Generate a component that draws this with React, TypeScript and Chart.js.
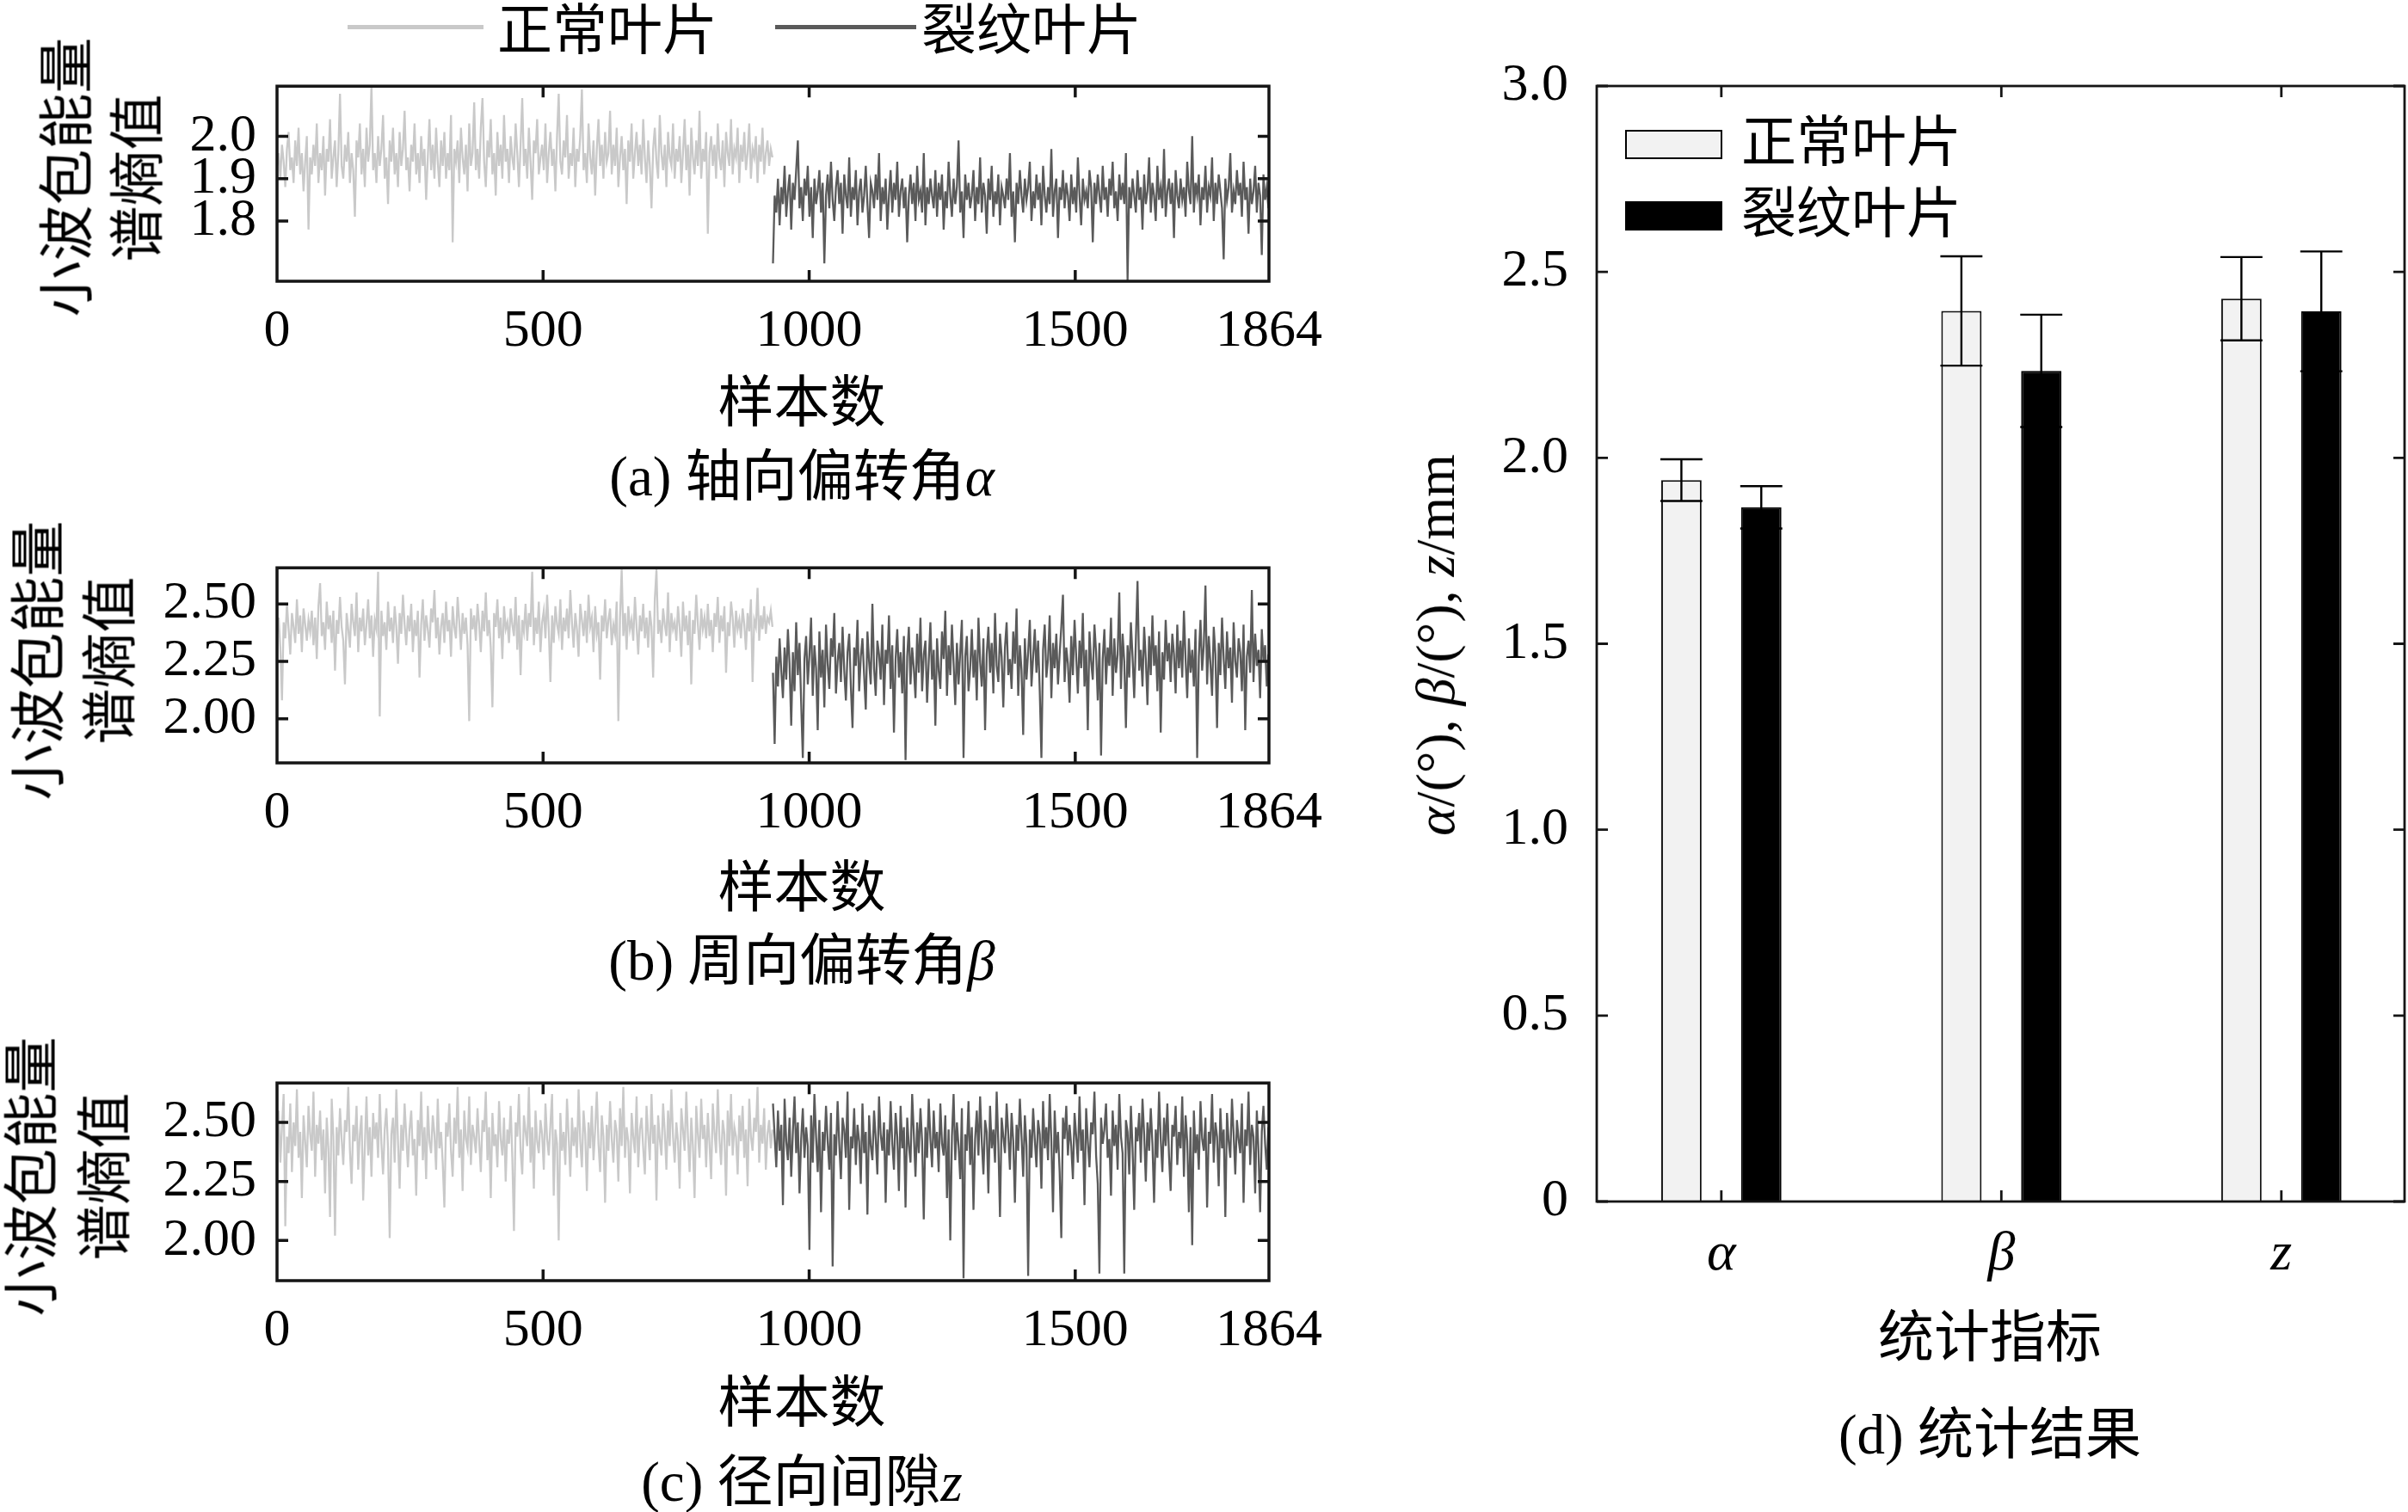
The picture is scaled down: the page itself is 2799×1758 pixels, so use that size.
import React, { useEffect, useRef } from 'react';
import { Chart, registerables } from 'chart.js';

Chart.register(...registerables);

const NUM_FONT = '"Liberation Serif", "Times New Roman", serif';
const TEXT_FONT = '"Liberation Serif", "Noto Sans CJK SC", serif';

const SAMPLE_TOTAL = 1864;
const SPLIT_AT = 932;
const SAMPLE_TICKS = [0, 500, 1000, 1500, 1864];
const SAMPLE_MARKS = [500, 1000, 1500];

const NORMAL_COLOR = '#c9c9c9';
const CRACK_COLOR = '#5a5a5a';

// (a) axial deflection angle alpha
const ALPHA_NORMAL = [
  1.93, 1.96, 1.90, 1.98, 1.94, 1.88, 1.97, 2.01, 1.92, 1.95, 1.89, 1.99, 1.93, 2.02, 1.91, 1.96, 1.87, 1.94, 2.00, 1.78,
  1.95, 1.91, 1.98, 1.93, 2.03, 1.89, 1.96, 1.92, 2.00, 1.86, 1.97, 1.94, 2.04, 1.90, 1.95, 1.99, 1.88, 1.96, 2.10, 1.93,
  1.90, 1.98, 1.94, 2.01, 1.89, 1.96, 1.92, 1.81, 1.99, 1.95, 2.03, 1.91, 1.97, 1.88, 2.02, 1.94, 1.98, 2.12, 1.92, 1.96,
  1.89, 2.00, 1.93, 1.97, 2.05, 1.90, 1.95, 1.84, 1.99, 1.94, 2.02, 1.91, 1.96, 1.88, 2.01, 1.93, 1.97, 2.06, 1.92, 1.95,
  1.87, 1.98, 1.94, 2.03, 1.91, 1.96, 1.89, 2.00, 1.93, 1.97, 1.85, 1.95, 2.04, 1.92, 1.98, 1.90, 2.02, 1.94, 1.88, 1.99,
  1.93, 2.01, 1.90, 1.96, 1.92, 2.05, 1.75, 1.97, 1.94, 1.99, 1.89, 2.02, 1.95, 1.91, 1.98, 1.87, 2.03, 1.93, 1.96, 2.08,
  1.92, 1.97, 1.90, 2.02, 2.09, 1.94, 1.88, 1.99, 1.95, 2.04, 1.91, 1.96, 1.86, 2.01, 1.93, 1.98, 1.90, 2.05, 1.94, 1.97,
  1.89, 2.00, 1.95, 1.92, 2.03, 1.96, 1.88, 1.98, 2.09, 1.93, 1.97, 1.90, 2.02, 1.94, 1.85, 1.99, 1.96, 2.04, 1.91, 1.95,
  1.98, 1.92, 2.03, 1.89, 1.96, 2.01, 1.93, 1.97, 1.87, 2.00, 2.10, 1.94, 1.91, 1.99, 1.95, 2.05, 1.90, 1.96, 1.93, 2.02,
  1.88, 1.97, 1.94, 2.00, 2.11, 1.92, 1.96, 1.89, 2.03, 1.95, 1.91, 1.99, 1.86, 1.97, 2.04, 1.93, 1.98, 1.90, 2.01, 1.94,
  1.96, 2.06, 1.91, 1.98, 1.93, 2.02, 1.88, 1.95, 2.00, 1.92, 1.97, 1.84, 1.99, 1.94, 2.03, 1.90, 1.96, 2.01, 1.93, 1.98,
  1.91, 2.04, 1.95, 1.89, 1.99, 1.93, 1.83, 1.97, 2.02, 1.94, 1.90, 2.05, 1.96, 1.92, 1.98, 1.88, 2.01, 1.95, 1.93, 2.03,
  1.90, 1.97, 1.94, 2.00, 1.89, 1.96, 2.04, 1.92, 1.98, 1.86, 2.02, 1.95, 1.91, 1.99, 1.93, 2.06, 1.90, 1.97, 1.94, 2.01,
  1.77, 1.96, 2.00, 1.93, 1.98, 1.90, 2.03, 1.95, 1.92, 1.99, 1.88, 2.01, 1.96, 1.93, 2.04, 1.91, 1.97, 1.95, 2.02, 1.89,
  1.98, 1.94, 2.01, 1.92, 1.96, 2.03, 1.90, 1.97, 1.95, 2.00, 1.89, 1.98, 1.94, 2.02, 1.91, 1.96, 1.99, 1.93, 1.97, 1.95,
];
const ALPHA_CRACK = [
  1.70, 1.86, 1.82, 1.90, 1.79, 1.88, 1.84, 1.93, 1.81, 1.87, 1.91, 1.78, 1.89, 1.85, 1.92, 1.99, 1.83, 1.88, 1.80, 1.90,
  1.86, 1.93, 1.81, 1.88, 1.76, 1.90, 1.84, 1.87, 1.92, 1.82, 1.89, 1.70, 1.86, 1.91, 1.83, 1.94, 1.85, 1.80, 1.88, 1.92,
  1.84, 1.89, 1.77, 1.91, 1.86, 1.83, 1.95, 1.81, 1.88, 1.85, 1.92, 1.79, 1.87, 1.90, 1.82, 1.86, 1.93, 1.84, 1.76, 1.89,
  1.87, 1.83, 1.91, 1.85, 1.96, 1.80, 1.88, 1.84, 1.90, 1.78, 1.86, 1.92, 1.82, 1.89, 1.85, 1.94, 1.81, 1.87, 1.90, 1.83,
  1.88, 1.75, 1.86, 1.91, 1.84, 1.89, 1.80, 1.93, 1.85, 1.87, 1.82, 1.96, 1.79, 1.88, 1.84, 1.90, 1.86, 1.83, 1.92, 1.81,
  1.89, 1.85, 1.91, 1.78, 1.87, 1.83, 1.94, 1.86, 1.81, 1.90, 1.84, 1.88, 1.99, 1.82, 1.87, 1.76, 1.91, 1.85, 1.89, 1.83,
  1.86, 1.92, 1.80, 1.88, 1.84, 1.95, 1.82, 1.89, 1.86, 1.77, 1.90, 1.85, 1.93, 1.81, 1.87, 1.84, 1.91, 1.79, 1.88, 1.86,
  1.83, 1.90, 1.85, 1.96, 1.81, 1.87, 1.75, 1.89, 1.84, 1.92, 1.86, 1.82, 1.90, 1.85, 1.88, 1.94, 1.80, 1.87, 1.83, 1.91,
  1.85, 1.89, 1.79, 1.93, 1.86, 1.82, 1.88, 1.84, 1.97, 1.81, 1.87, 1.90, 1.76, 1.88, 1.85, 1.92, 1.83, 1.89, 1.86, 1.80,
  1.91, 1.84, 1.88, 1.82, 1.95, 1.86, 1.79, 1.90, 1.85, 1.87, 1.83, 1.92, 1.88, 1.75, 1.89, 1.84, 1.91, 1.86, 1.82, 1.93,
  1.85, 1.88, 1.81, 1.90, 1.86, 1.94, 1.83, 1.87, 1.80, 1.91, 1.85, 1.89, 1.84, 1.96, 1.66, 1.88, 1.83, 1.90, 1.86, 1.82,
  1.92, 1.85, 1.88, 1.78, 1.91, 1.84, 1.87, 1.95, 1.82, 1.89, 1.86, 1.80, 1.93, 1.85, 1.88, 1.83, 1.97, 1.81, 1.87, 1.90,
  1.84, 1.89, 1.76, 1.92, 1.86, 1.83, 1.90, 1.85, 1.88, 1.81, 1.94, 1.87, 1.84, 2.00, 1.82, 1.89, 1.86, 1.91, 1.79, 1.88,
  1.85, 1.93, 1.82, 1.88, 1.86, 1.95, 1.80, 1.89, 1.84, 1.91, 1.87, 1.83, 1.71, 1.90, 1.85, 1.88, 1.96, 1.82, 1.87, 1.84,
  1.92, 1.86, 1.89, 1.81, 1.94, 1.85, 1.88, 1.77, 1.90, 1.84, 1.87, 1.93, 1.82, 1.89, 1.86, 1.72, 1.91, 1.85, 1.88, 1.83,
];
const ALPHA_Y_TICKS = [1.8, 1.9, 2.0];
const ALPHA_Y_MIN = 1.658;
const ALPHA_Y_MAX = 2.118;

// (b) circumferential deflection angle beta
const BETA_NORMAL = [
  2.37, 2.44, 2.31, 2.08, 2.42, 2.35, 2.50, 2.39, 2.28, 2.46, 2.40, 2.33, 2.52, 2.37, 2.45, 2.29, 2.48, 2.41, 2.34, 2.43,
  2.38, 2.47, 2.32, 2.44, 2.26, 2.49, 2.59, 2.36, 2.42, 2.30, 2.51, 2.39, 2.45, 2.33, 2.47, 2.21, 2.43, 2.37, 2.53, 2.40,
  2.34, 2.15, 2.46, 2.39, 2.31, 2.50, 2.42, 2.36, 2.55, 2.29, 2.44, 2.38, 2.48, 2.32, 2.41, 2.52, 2.35, 2.45, 2.27, 2.43,
  2.39, 2.64, 2.01, 2.47, 2.36, 2.42, 2.30, 2.51, 2.38, 2.44, 2.33, 2.49, 2.40, 2.24, 2.46, 2.37, 2.54, 2.41, 2.32, 2.45,
  2.38, 2.50, 2.29, 2.43, 2.36, 2.47, 2.18, 2.41, 2.52, 2.34, 2.45, 2.39, 2.31, 2.48, 2.42, 2.56, 2.35, 2.44, 2.28, 2.40,
  2.46, 2.33, 2.51, 2.38, 2.43, 2.27, 2.49, 2.40, 2.35, 2.53, 2.42, 2.30, 2.46, 2.37, 2.44, 2.32, 1.99, 2.48, 2.39, 2.45,
  2.34, 2.50, 2.41, 2.29, 2.47, 2.38, 2.55, 2.36, 2.43, 2.31, 2.05, 2.46, 2.40, 2.52, 2.35, 2.44, 2.26, 2.49, 2.39, 2.42,
  2.33, 2.48, 2.41, 2.36, 2.53, 2.30, 2.45, 2.19, 2.43, 2.38, 2.50, 2.34, 2.46, 2.40, 2.64, 2.32, 2.44, 2.37, 2.51, 2.29,
  2.42, 2.47, 2.35, 2.54, 2.39, 2.16, 2.45, 2.33, 2.49, 2.41, 2.37, 2.52, 2.30, 2.44, 2.38, 2.48, 2.35, 2.56, 2.42, 2.31,
  2.46, 2.39, 2.27, 2.50, 2.43, 2.36, 2.47, 2.33, 2.54, 2.40, 2.44, 2.29, 2.49, 2.37, 2.42, 2.17, 2.45, 2.38, 2.52, 2.35,
  2.43, 2.48, 2.32, 2.41, 2.37, 2.51, 1.99, 2.44, 2.65, 2.36, 2.46, 2.30, 2.49, 2.39, 2.43, 2.34, 2.53, 2.40, 2.28, 2.45,
  2.38, 2.50, 2.35, 2.44, 2.31, 2.47, 2.40, 2.18, 2.52, 2.65, 2.37, 2.43, 2.33, 2.48, 2.41, 2.36, 2.55, 2.29, 2.46, 2.39,
  2.42, 2.34, 2.49, 2.40, 2.27, 2.51, 2.38, 2.45, 2.32, 2.47, 2.15, 2.43, 2.37, 2.54, 2.41, 2.30, 2.48, 2.39, 2.44, 2.35,
  2.50, 2.36, 2.43, 2.29, 2.46, 2.40, 2.53, 2.33, 2.45, 2.38, 2.49, 2.20, 2.42, 2.36, 2.51, 2.44, 2.31, 2.47, 2.39, 2.43,
  2.35, 2.48, 2.41, 2.30, 2.46, 2.38, 2.52, 2.16, 2.43, 2.40, 2.57, 2.34, 2.45, 2.39, 2.49, 2.37, 2.44, 2.42, 2.47, 2.40,
];
const BETA_CRACK = [
  2.20, 1.89, 2.27, 2.14, 2.35, 2.21, 2.09, 2.31, 2.17, 2.39, 2.24, 1.97, 2.29, 2.12, 2.42, 2.19, 2.33, 2.07, 1.83, 2.26,
  2.36, 2.15, 2.28, 2.44, 2.10, 2.32, 2.22, 1.95, 2.38, 2.18, 2.30, 2.05, 2.41, 2.24, 2.13, 2.35, 2.27, 2.46, 2.11, 2.25,
  2.33, 2.16, 2.40, 2.21, 2.08, 2.29, 2.37, 2.14, 1.96, 2.31, 2.23, 2.43, 2.12, 2.27, 2.35, 2.19, 2.04, 2.38, 2.25, 2.15,
  2.50, 2.22, 2.10, 2.34, 2.28, 2.17, 2.41, 2.06, 2.30, 2.24, 2.45, 2.13, 2.32, 1.94, 2.26, 2.39, 2.18, 2.29, 2.11, 2.36,
  1.82, 2.27, 2.40, 2.15, 2.31, 2.22, 2.09, 2.37, 2.20, 2.44, 2.12, 2.28, 2.34, 2.07, 2.25, 2.42, 2.17, 2.30, 1.97, 2.35,
  2.21, 2.13, 2.38, 2.26, 2.47, 2.10, 2.32, 2.19, 2.41, 2.24, 2.06, 2.33, 2.15, 2.29, 2.43, 1.83, 2.27, 2.36, 2.12, 2.22,
  2.39, 2.18, 2.30, 2.08, 2.44, 2.25, 2.14, 2.35, 1.95, 2.28, 2.40, 2.20, 2.33, 2.11, 2.46, 2.23, 2.16, 2.37, 2.27, 2.05,
  2.31, 2.42, 2.19, 2.26, 2.13, 2.38, 2.24, 2.48, 2.10, 2.32, 2.21, 1.93, 2.35, 2.17, 2.29, 2.43, 2.14, 2.27, 2.39, 2.20,
  2.34, 2.12, 1.83, 2.30, 2.41, 2.18, 2.26, 2.45, 2.09, 2.33, 2.22, 2.37, 2.15, 2.28, 2.40, 2.54, 2.16, 2.31, 2.24, 2.07,
  2.36, 2.19, 2.43, 2.27, 2.11, 2.34, 2.22, 2.46, 2.14, 2.30, 1.95, 2.38, 2.25, 2.17, 2.41, 2.29, 2.08, 2.33, 1.84, 2.26,
  2.39, 2.15, 2.31, 2.23, 2.44, 2.10, 2.35, 2.20, 2.28, 2.55, 2.13, 2.37, 2.25, 1.96, 2.32, 2.18, 2.42, 2.27, 2.09, 2.34,
  2.60, 2.21, 2.30, 2.14, 2.40, 2.26, 2.06, 2.36, 2.19, 2.45, 2.23, 2.32, 2.12, 2.38, 1.94, 2.29, 2.17, 2.43, 2.25, 2.33,
  2.16, 2.37, 2.28, 2.11, 2.41, 2.22, 2.34, 2.18, 2.47, 2.26, 2.09, 2.35, 2.20, 2.30, 2.14, 2.39, 1.83, 2.27, 2.43, 2.21,
  2.32, 2.58, 2.15, 2.36, 2.24, 2.10, 2.40, 2.28, 1.96, 2.33, 2.19, 2.44, 2.26, 2.13, 2.38, 2.22, 2.31, 2.07, 2.42, 2.25,
  2.18, 2.35, 2.29, 2.12, 2.41, 1.95, 2.27, 2.34, 2.20, 2.56, 2.16, 2.37, 2.23, 2.30, 2.09, 2.39, 2.25, 2.32, 2.14, 2.28,
];
const BETA_Y_TICKS = [2.0, 2.25, 2.5];
const BETA_Y_MIN = 1.808;
const BETA_Y_MAX = 2.657;

// (c) radial clearance z
const Z_NORMAL = [
  2.41, 2.55, 2.33, 2.48, 2.62, 2.06, 2.44, 2.37, 2.58, 2.29, 2.50, 2.40, 2.64, 2.35, 2.46, 2.18, 2.53, 2.42, 2.31, 2.57,
  2.45, 2.38, 2.63, 2.27, 2.49, 2.41, 2.55, 2.34, 2.47, 2.20, 2.52, 2.39, 2.10, 2.60, 2.44, 2.02, 2.48, 2.36, 2.56, 2.43,
  2.32, 2.51, 2.46, 2.65, 2.38, 2.24, 2.49, 2.42, 2.57, 2.30, 2.45, 2.53, 2.17, 2.40, 2.61, 2.36, 2.48, 2.27, 2.54, 2.43,
  2.50, 2.35, 2.62, 2.41, 2.28, 2.47, 2.56, 2.39, 2.01, 2.45, 2.52, 2.33, 2.64, 2.42, 2.22, 2.49, 2.38, 2.58, 2.44, 2.31,
  2.47, 2.55, 2.36, 2.43, 2.19, 2.51, 2.40, 2.63, 2.34, 2.48, 2.26, 2.57, 2.42, 2.37, 2.53, 2.45, 2.30, 2.60, 2.39, 2.46,
  2.33, 2.14, 2.50, 2.44, 2.58, 2.38, 2.27, 2.52, 2.41, 2.65, 2.35, 2.47, 2.21, 2.55, 2.43, 2.39, 2.61, 2.32, 2.49, 2.44,
  2.37, 2.56, 2.42, 2.29, 2.51, 2.46, 2.63, 2.34, 2.48, 2.18, 2.54, 2.40, 2.45, 2.31, 2.59, 2.43, 2.36, 2.52, 2.25, 2.47,
  2.41, 2.57, 2.35, 2.04, 2.50, 2.44, 2.62, 2.38, 2.28, 2.53, 2.46, 2.40, 2.65, 2.33, 2.48, 2.22, 2.55, 2.42, 2.37, 2.51,
  2.45, 2.30, 2.58, 2.43, 2.36, 2.49, 2.62, 2.19, 2.47, 2.41, 2.00, 2.54, 2.38, 2.46, 2.32, 2.60, 2.44, 2.27, 2.52, 2.40,
  2.48, 2.35, 2.64, 2.42, 2.31, 2.55, 2.45, 2.21, 2.50, 2.39, 2.57, 2.34, 2.47, 2.63, 2.41, 2.29, 2.53, 2.44, 2.16, 2.49,
  2.38, 2.59, 2.43, 2.33, 2.51, 2.46, 2.25, 2.56, 2.40, 2.65, 2.35, 2.48, 2.42, 2.20, 2.54, 2.44, 2.37, 2.61, 2.31, 2.47,
  2.52, 2.39, 2.28, 2.57, 2.45, 2.34, 2.62, 2.41, 2.49, 2.17, 2.53, 2.43, 2.36, 2.58, 2.46, 2.30, 2.55, 2.40, 2.64, 2.44,
  2.33, 2.50, 2.42, 2.22, 2.56, 2.47, 2.38, 2.63, 2.44, 2.29, 2.52, 2.40, 2.18, 2.57, 2.45, 2.35, 2.60, 2.43, 2.49, 2.31,
  2.54, 2.41, 2.26, 2.58, 2.46, 2.37, 2.64, 2.43, 2.32, 2.51, 2.45, 2.19, 2.55, 2.40, 2.62, 2.36, 2.48, 2.44, 2.28, 2.53,
  2.42, 2.57, 2.35, 2.47, 2.23, 2.60, 2.44, 2.38, 2.52, 2.46, 2.65, 2.33, 2.49, 2.41, 2.56, 2.30, 2.45, 2.51, 2.39, 2.47,
];
const Z_CRACK = [
  2.58, 2.44, 2.31, 2.55, 2.38, 2.49, 2.15, 2.60, 2.42, 2.34, 2.52, 2.27, 2.46, 2.61, 2.37, 2.50, 2.20, 2.43, 2.56, 2.35,
  2.48, 2.40, 1.96, 2.53, 2.33, 2.62, 2.44, 2.29, 2.51, 2.12, 2.46, 2.38, 2.57, 2.42, 2.30, 2.54, 1.89, 2.45, 2.36, 2.59,
  2.41, 2.26, 2.52, 2.47, 2.35, 2.63, 2.13, 2.44, 2.39, 2.56, 2.32, 2.49, 2.42, 2.24, 2.58, 2.37, 2.46, 2.11, 2.53, 2.40,
  2.34, 2.55, 2.43, 2.28, 2.61, 2.45, 2.38, 2.50, 2.16, 2.47, 2.36, 2.59, 2.41, 2.30, 2.54, 2.44, 2.21, 2.57, 2.39, 2.48,
  2.14, 2.52, 2.40, 2.33, 2.62, 2.45, 2.27, 2.50, 2.37, 2.56, 2.42, 2.09, 2.48, 2.35, 2.60, 2.43, 2.31, 2.55, 2.39, 2.46,
  2.29, 2.58, 2.41, 2.36, 2.53, 2.18, 2.47, 2.00, 2.44, 2.62, 2.34, 2.50, 2.40, 2.26, 2.56, 1.84, 2.45, 2.38, 2.59, 2.32,
  2.48, 2.13, 2.43, 2.55, 2.36, 2.61, 2.42, 2.28, 2.51, 2.46, 2.20, 2.57, 2.39, 2.47, 2.33, 2.63, 2.41, 2.10, 2.52, 2.44,
  2.37, 2.58, 2.45, 2.30, 2.54, 2.42, 2.16, 2.49, 2.38, 2.60, 2.44, 2.27, 2.53, 2.40, 1.85, 2.47, 2.35, 2.56, 2.43, 2.31,
  2.51, 2.45, 2.22, 2.59, 2.39, 2.48, 2.34, 2.62, 2.42, 2.12, 2.55, 2.37, 2.46, 2.29, 2.01, 2.52, 2.43, 2.57, 2.36, 2.49,
  2.40, 2.26, 2.54, 2.44, 2.33, 2.61, 2.38, 2.47, 2.15, 2.56, 2.42, 2.31, 2.50, 2.45, 2.63, 2.36, 2.24, 1.86, 2.52, 2.41,
  2.47, 2.58, 2.35, 2.43, 2.19, 2.55, 2.40, 2.49, 2.30, 2.62, 2.44, 2.37, 1.86, 2.51, 2.46, 2.28, 2.57, 2.39, 2.13, 2.48,
  2.42, 2.54, 2.33, 2.60, 2.45, 2.25, 2.50, 2.38, 2.56, 2.41, 2.16, 2.47, 2.35, 2.63, 2.43, 2.29, 2.52, 2.40, 2.58, 2.36,
  2.21, 2.49, 2.44, 2.57, 2.32, 2.46, 2.39, 2.61, 2.27, 2.53, 2.42, 2.12, 2.48, 1.98, 2.55, 2.37, 2.45, 2.30, 2.59, 2.43,
  2.38, 2.52, 2.14, 2.46, 2.41, 2.62, 2.33, 2.50, 2.44, 2.23, 2.56, 2.39, 2.47, 2.10, 2.54, 2.42, 2.35, 2.60, 2.45, 2.28,
  2.51, 2.43, 2.37, 2.58, 2.16, 2.47, 2.40, 2.63, 2.32, 2.49, 2.44, 2.20, 2.55, 2.38, 2.12, 2.46, 2.57, 2.41, 2.30, 2.48,
];
const Z_Y_TICKS = [2.0, 2.25, 2.5];
const Z_Y_MIN = 1.83;
const Z_Y_MAX = 2.667;

// (d) statistics
const BAR_CATEGORIES = ['α', 'β', 'z'];
const NORMAL_MEAN = [1.94, 2.395, 2.428];
const NORMAL_SD = [0.056, 0.147, 0.112];
const CRACK_MEAN = [1.867, 2.234, 2.394];
const CRACK_SD = [0.057, 0.151, 0.161];
const BAR_Y_TICKS = [0, 0.5, 1.0, 1.5, 2.0, 2.5, 3.0];
const LEGEND_NORMAL = '正常叶片';
const LEGEND_CRACK = '裂纹叶片';

function framePlugin(lineWidth: number, tickLen: number, xMarks: number[], yMarks: number[]) {
  return {
    id: 'frame',
    afterDraw(chart: any) {
      const { ctx, chartArea: a } = chart;
      const xs = chart.scales.x;
      const ys = chart.scales.y;
      ctx.save();
      ctx.strokeStyle = '#151515';
      ctx.lineWidth = lineWidth;
      ctx.beginPath();
      xMarks.forEach((v) => {
        const p = xs.getPixelForValue(v);
        ctx.moveTo(p, a.bottom);
        ctx.lineTo(p, a.bottom - tickLen);
        ctx.moveTo(p, a.top);
        ctx.lineTo(p, a.top + tickLen);
      });
      yMarks.forEach((v) => {
        const p = ys.getPixelForValue(v);
        ctx.moveTo(a.left, p);
        ctx.lineTo(a.left + tickLen, p);
        ctx.moveTo(a.right, p);
        ctx.lineTo(a.right - tickLen, p);
      });
      ctx.stroke();
      ctx.strokeRect(a.left, a.top, a.right - a.left, a.bottom - a.top);
      ctx.restore();
    },
  };
}

type PanelProps = {
  areaTop: number;
  areaHeight: number;
  normal: number[];
  crack: number[];
  yMin: number;
  yMax: number;
  yTicks: number[];
  decimals: number;
};

function SignalPanel({ areaTop, areaHeight, normal, crack, yMin, yMax, yTicks, decimals }: PanelProps) {
  const ref = useRef<HTMLCanvasElement>(null);
  const PAD_TOP = 50;
  const AXIS_H = 100;
  const WIDTH = 1560;
  const PAD_RIGHT = 85;
  const Y_AXIS_W = 322;
  const height = PAD_TOP + areaHeight + AXIS_H;

  useEffect(() => {
    const normalPts = normal.map((v, i) => ({ x: (i * (SPLIT_AT - 1)) / (normal.length - 1), y: v }));
    const crackPts = crack.map((v, i) => ({
      x: SPLIT_AT + (i * (SAMPLE_TOTAL - 1 - SPLIT_AT)) / (crack.length - 1),
      y: v,
    }));
    const chart = new Chart(ref.current as HTMLCanvasElement, {
      type: 'line',
      data: {
        datasets: [
          { data: normalPts, borderColor: NORMAL_COLOR, borderWidth: 2.3, pointRadius: 0, tension: 0, fill: false },
          { data: crackPts, borderColor: CRACK_COLOR, borderWidth: 2.3, pointRadius: 0, tension: 0, fill: false },
        ],
      },
      options: {
        animation: false,
        responsive: false,
        devicePixelRatio: 1,
        layout: { padding: { top: PAD_TOP, right: PAD_RIGHT, left: 0, bottom: 0 } },
        plugins: { legend: { display: false }, tooltip: { enabled: false } },
        scales: {
          x: {
            type: 'linear',
            min: 0,
            max: SAMPLE_TOTAL,
            grid: { display: false, drawTicks: false },
            border: { display: false },
            afterBuildTicks: (s: any) => {
              s.ticks = SAMPLE_TICKS.map((v) => ({ value: v }));
            },
            afterFit: (s: any) => {
              s.height = AXIS_H;
            },
            ticks: {
              autoSkip: false,
              maxRotation: 0,
              padding: 22,
              color: '#000',
              font: { family: NUM_FONT, size: 62 },
              callback: (v: any) => String(v),
            },
          },
          y: {
            type: 'linear',
            min: yMin,
            max: yMax,
            grid: { display: false, drawTicks: false },
            border: { display: false },
            afterBuildTicks: (s: any) => {
              s.ticks = yTicks.map((v) => ({ value: v }));
            },
            afterFit: (s: any) => {
              s.width = Y_AXIS_W;
            },
            ticks: {
              autoSkip: false,
              padding: 24,
              color: '#000',
              font: { family: NUM_FONT, size: 62 },
              callback: (v: any) => Number(v).toFixed(decimals),
            },
          },
        },
      } as any,
      plugins: [framePlugin(3.5, 13, SAMPLE_MARKS, yTicks)],
    });
    return () => chart.destroy();
  }, []);

  return (
    <canvas
      ref={ref}
      width={WIDTH}
      height={height}
      style={{ position: 'absolute', left: 0, top: areaTop - PAD_TOP, width: WIDTH, height }}
    />
  );
}

function BarPanel() {
  const ref = useRef<HTMLCanvasElement>(null);
  const LEFT = 1600;
  const WIDTH = 1199;
  const HEIGHT = 1500;
  const PAD_TOP = 100;
  const AREA_BOTTOM = 1397;

  useEffect(() => {
    const errorBars = {
      id: 'errorBars',
      afterDatasetsDraw(chart: any) {
        const { ctx } = chart;
        const ys = chart.scales.y;
        const sets = [
          { mean: NORMAL_MEAN, sd: NORMAL_SD },
          { mean: CRACK_MEAN, sd: CRACK_SD },
        ];
        ctx.save();
        ctx.strokeStyle = '#000';
        ctx.lineWidth = 2.4;
        sets.forEach((s, di) => {
          const meta = chart.getDatasetMeta(di);
          meta.data.forEach((bar: any, i: number) => {
            const hi = ys.getPixelForValue(s.mean[i] + s.sd[i]);
            const lo = ys.getPixelForValue(s.mean[i] - s.sd[i]);
            const half = bar.width / 2 + 1;
            ctx.beginPath();
            ctx.moveTo(bar.x, hi);
            ctx.lineTo(bar.x, lo);
            ctx.moveTo(bar.x - half, hi);
            ctx.lineTo(bar.x + half, hi);
            ctx.moveTo(bar.x - half, lo);
            ctx.lineTo(bar.x + half, lo);
            ctx.stroke();
          });
        });
        ctx.restore();
      },
    };
    const legendBox = {
      id: 'legendBox',
      afterDraw(chart: any) {
        const { ctx, chartArea: a } = chart;
        ctx.save();
        const items = [
          { label: LEGEND_NORMAL, fill: '#f2f2f2', dy: 52 },
          { label: LEGEND_CRACK, fill: '#000', dy: 135 },
        ];
        items.forEach((it) => {
          ctx.fillStyle = it.fill;
          ctx.fillRect(a.left + 34, a.top + it.dy, 111, 32);
          ctx.strokeStyle = '#000';
          ctx.lineWidth = 2;
          ctx.strokeRect(a.left + 34, a.top + it.dy, 111, 32);
          ctx.fillStyle = '#000';
          ctx.font = `64px ${TEXT_FONT}`;
          ctx.textBaseline = 'middle';
          ctx.textAlign = 'left';
          ctx.fillText(it.label, a.left + 168, a.top + it.dy + 18);
        });
        ctx.restore();
      },
    };
    const chart = new Chart(ref.current as HTMLCanvasElement, {
      type: 'bar',
      data: {
        datasets: [
          {
            label: LEGEND_NORMAL,
            data: NORMAL_MEAN.map((v, i) => ({ x: i + 1, y: v })),
            backgroundColor: '#f2f2f2',
            borderColor: '#111',
            borderWidth: 2,
            categoryPercentage: 0.5706,
            barPercentage: 0.505,
          },
          {
            label: LEGEND_CRACK,
            data: CRACK_MEAN.map((v, i) => ({ x: i + 1, y: v })),
            backgroundColor: '#000',
            borderColor: '#000',
            borderWidth: 2,
            categoryPercentage: 0.5706,
            barPercentage: 0.505,
          },
        ],
      },
      options: {
        animation: false,
        responsive: false,
        devicePixelRatio: 1,
        layout: { padding: { top: PAD_TOP, right: 4, left: 0, bottom: 0 } },
        plugins: { legend: { display: false }, tooltip: { enabled: false } },
        scales: {
          x: {
            type: 'linear',
            min: 0.555,
            max: 3.44,
            offset: false,
            grid: { display: false, drawTicks: false },
            border: { display: false },
            afterBuildTicks: (s: any) => {
              s.ticks = BAR_CATEGORIES.map((_, i) => ({ value: i + 1 }));
            },
            afterFit: (s: any) => {
              s.height = HEIGHT - AREA_BOTTOM;
            },
            ticks: {
              autoSkip: false,
              maxRotation: 0,
              padding: 24,
              color: '#000',
              font: { family: NUM_FONT, size: 64, style: 'italic' },
              callback: (v: any) => BAR_CATEGORIES[Math.round(Number(v)) - 1] ?? '',
            },
          },
          y: {
            type: 'linear',
            min: 0,
            max: 3,
            grid: { display: false, drawTicks: false },
            border: { display: false },
            afterBuildTicks: (s: any) => {
              s.ticks = BAR_Y_TICKS.map((v) => ({ value: v }));
            },
            afterFit: (s: any) => {
              s.width = 1856 - LEFT;
            },
            ticks: {
              autoSkip: false,
              padding: 33,
              color: '#000',
              font: { family: NUM_FONT, size: 62 },
              callback: (v: any) => (Number(v) === 0 ? '0' : Number(v).toFixed(1)),
            },
          },
        },
      } as any,
      plugins: [errorBars, framePlugin(2.8, 13, [1, 2, 3], BAR_Y_TICKS), legendBox],
    });
    return () => chart.destroy();
  }, []);

  return (
    <canvas
      ref={ref}
      width={WIDTH}
      height={HEIGHT}
      style={{ position: 'absolute', left: LEFT, top: 0, width: WIDTH, height: HEIGHT }}
    />
  );
}

function Label({ x, y, size = 65, rotate = false, anchor = 'center', children }: any) {
  const tx = anchor === 'left' ? '0' : '-50%';
  return (
    <div
      style={{
        position: 'absolute',
        left: x,
        top: y,
        transform: `translate(${tx}, -50%)${rotate ? ' rotate(-90deg)' : ''}`,
        fontFamily: TEXT_FONT,
        fontSize: size,
        lineHeight: 1,
        whiteSpace: 'nowrap',
        color: '#000',
      }}
    >
      {children}
    </div>
  );
}

const ital = { fontStyle: 'italic', fontFamily: NUM_FONT } as const;

export default function App() {
  return (
    <div
      style={{
        position: 'absolute',
        left: 0,
        top: 0,
        width: 2799,
        height: 1758,
        background: '#fff',
        overflow: 'hidden',
      }}
    >
      {/* top legend */}
      <div style={{ position: 'absolute', left: 404, top: 29, width: 158, height: 5, background: NORMAL_COLOR }} />
      <Label x={578} y={36} size={64} anchor="left">
        {LEGEND_NORMAL}
      </Label>
      <div style={{ position: 'absolute', left: 901, top: 29, width: 164, height: 5, background: CRACK_COLOR }} />
      <Label x={1071} y={36} size={64} anchor="left">
        {LEGEND_CRACK}
      </Label>

      <SignalPanel
        areaTop={89}
        areaHeight={238}
        normal={ALPHA_NORMAL}
        crack={ALPHA_CRACK}
        yMin={ALPHA_Y_MIN}
        yMax={ALPHA_Y_MAX}
        yTicks={ALPHA_Y_TICKS}
        decimals={1}
      />
      <SignalPanel
        areaTop={649}
        areaHeight={238}
        normal={BETA_NORMAL}
        crack={BETA_CRACK}
        yMin={BETA_Y_MIN}
        yMax={BETA_Y_MAX}
        yTicks={BETA_Y_TICKS}
        decimals={2}
      />
      <SignalPanel
        areaTop={1248}
        areaHeight={241}
        normal={Z_NORMAL}
        crack={Z_CRACK}
        yMin={Z_Y_MIN}
        yMax={Z_Y_MAX}
        yTicks={Z_Y_TICKS}
        decimals={2}
      />

      {/* panel (a) texts */}
      <Label x={79} y={206} size={65} rotate>小波包能量</Label>
      <Label x={161} y={207} size={65} rotate>谱熵值</Label>
      <Label x={932} y={468} size={65}>样本数</Label>
      <Label x={932} y={554} size={65}>
        (a) 轴向偏转角<span style={ital}>α</span>
      </Label>

      {/* panel (b) texts */}
      <Label x={46} y={768} size={65} rotate>小波包能量</Label>
      <Label x={129} y={768} size={65} rotate>谱熵值</Label>
      <Label x={932} y={1032} size={65}>样本数</Label>
      <Label x={932} y={1117} size={65}>
        (b) 周向偏转角<span style={ital}>β</span>
      </Label>

      {/* panel (c) texts */}
      <Label x={38} y={1368} size={65} rotate>小波包能量</Label>
      <Label x={123} y={1368} size={65} rotate>谱熵值</Label>
      <Label x={932} y={1631} size={65}>样本数</Label>
      <Label x={932} y={1723} size={65}>
        (c) 径向间隙<span style={ital}>z</span>
      </Label>

      <BarPanel />

      {/* panel (d) texts */}
      <Label x={1669} y={750} size={64} rotate>
        <span style={ital}>α</span>
        <span style={{ fontFamily: NUM_FONT }}>/(°), </span>
        <span style={ital}>β</span>
        <span style={{ fontFamily: NUM_FONT }}>/(°), </span>
        <span style={ital}>z</span>
        <span style={{ fontFamily: NUM_FONT }}>/mm</span>
      </Label>
      <Label x={2313} y={1555} size={65}>统计指标</Label>
      <Label x={2313} y={1668} size={65}>(d) 统计结果</Label>
    </div>
  );
}
